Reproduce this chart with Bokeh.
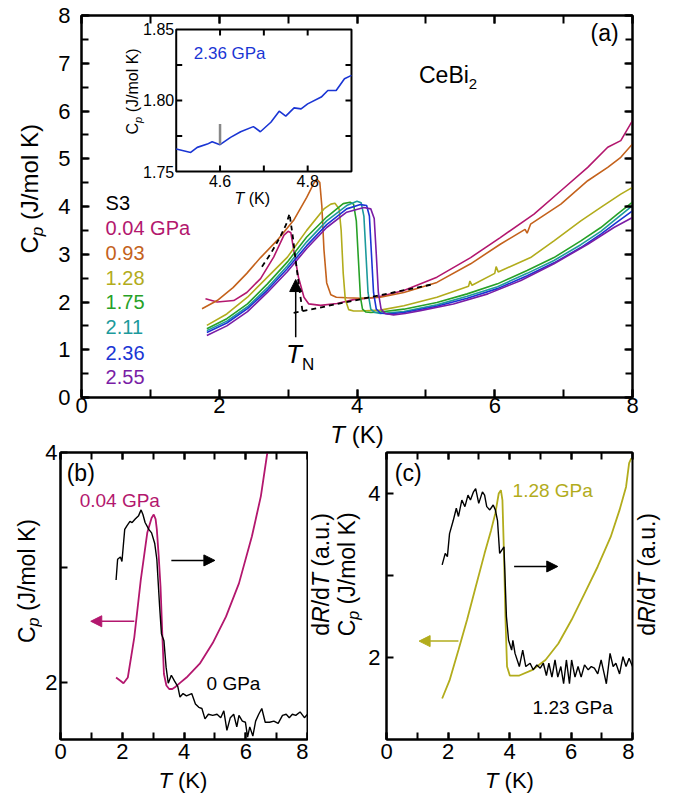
from bokeh.plotting import figure
from bokeh.models import Range1d, LinearAxis, SingleIntervalTicker, FixedTicker, Label, Arrow, NormalHead
from bokeh.layouts import column, row
from bokeh.embed import file_html
from bokeh.resources import INLINE
from bokeh.core.properties import value

FONT = "Liberation Sans"

# ---------------- data: panel (a) ----------------
pressures = ["0.04 GPa", "0.93", "1.28", "1.75", "2.11", "2.36", "2.55"]
colors = ["#B3176E", "#C4621C", "#B2AC1C", "#27A127", "#1C9A9C", "#1A35D4", "#7A1DA6"]

T_004 = [1.80, 1.97, 2.21, 2.40, 2.60, 2.79, 2.94, 3.00, 3.04, 3.08, 3.15, 3.23, 3.30, 3.47, 3.71, 3.95, 4.29,
         4.68, 5.16, 5.65, 6.08, 6.57, 6.96, 7.35, 7.64, 7.83, 8.00]
Cp_004 = [2.07, 2.00, 2.03, 2.20, 2.49, 2.94, 3.40, 3.48, 3.45, 3.10, 2.52, 2.10, 1.96, 1.93, 1.97, 2.05, 2.10,
          2.24, 2.52, 2.93, 3.35, 3.84, 4.33, 4.82, 5.24, 5.38, 5.80]

T_093 = [1.75, 1.97, 2.20, 2.40, 2.60, 2.84, 3.08, 3.27, 3.37, 3.42, 3.46, 3.49, 3.52, 3.56, 3.62, 3.70, 3.85,
         4.05, 4.34, 4.68, 5.16, 5.65, 6.08, 6.44, 6.47, 6.52, 6.96, 7.35, 7.64, 7.83, 8.00]
Cp_093 = [1.86, 2.03, 2.30, 2.60, 2.93, 3.29, 3.71, 4.19, 4.48, 4.57, 4.50, 4.00, 3.10, 2.40, 2.15, 2.10, 2.09,
          2.08, 2.10, 2.20, 2.41, 2.80, 3.21, 3.52, 3.44, 3.63, 4.05, 4.54, 4.82, 5.03, 5.31]

T_128 = [1.82, 2.11, 2.41, 2.70, 2.99, 3.27, 3.52, 3.62, 3.68, 3.74, 3.77, 3.80, 3.83, 3.88, 3.95, 4.05, 4.34,
         4.68, 5.16, 5.62, 5.64, 5.67, 6.00, 6.02, 6.05, 6.52, 6.86, 7.25, 7.54, 7.83, 8.00]
Cp_128 = [1.51, 1.75, 2.10, 2.52, 2.94, 3.50, 3.95, 4.05, 4.07, 3.95, 3.50, 2.60, 2.05, 1.84, 1.81, 1.81, 1.83,
          1.92, 2.10, 2.33, 2.44, 2.35, 2.60, 2.74, 2.63, 2.93, 3.28, 3.70, 3.98, 4.26, 4.40]

T_175 = [1.82, 2.11, 2.41, 2.70, 2.99, 3.27, 3.56, 3.80, 3.90, 3.95, 3.99, 4.02, 4.05, 4.08, 4.13, 4.20, 4.34,
         4.68, 5.16, 5.60, 6.04, 6.47, 6.86, 7.25, 7.54, 7.78, 8.00]
Cp_175 = [1.44, 1.65, 1.96, 2.38, 2.84, 3.36, 3.78, 4.06, 4.09, 4.05, 3.70, 2.90, 2.10, 1.85, 1.79, 1.78, 1.79,
          1.85, 1.99, 2.17, 2.38, 2.66, 2.93, 3.28, 3.56, 3.84, 4.09]

T_211 = [1.82, 2.11, 2.41, 2.70, 2.99, 3.27, 3.56, 3.85, 4.00, 4.06, 4.10, 4.13, 4.16, 4.20, 4.26, 4.34, 4.68,
         5.16, 5.60, 6.04, 6.47, 6.86, 7.25, 7.54, 7.78, 8.00]
Cp_211 = [1.40, 1.60, 1.90, 2.30, 2.76, 3.26, 3.70, 4.02, 4.11, 4.08, 3.80, 3.00, 2.20, 1.85, 1.78, 1.76, 1.80,
          1.94, 2.12, 2.32, 2.60, 2.87, 3.20, 3.48, 3.76, 4.02]

T_236 = [1.82, 2.11, 2.41, 2.70, 2.99, 3.27, 3.56, 3.85, 4.05, 4.14, 4.18, 4.21, 4.24, 4.28, 4.34, 4.45, 4.68,
         5.16, 5.60, 6.04, 6.47, 6.86, 7.25, 7.54, 7.78, 8.00]
Cp_236 = [1.36, 1.56, 1.86, 2.25, 2.70, 3.18, 3.62, 3.95, 4.04, 4.02, 3.80, 3.00, 2.20, 1.85, 1.77, 1.75, 1.78,
          1.91, 2.08, 2.28, 2.55, 2.82, 3.14, 3.42, 3.68, 3.91]

T_255 = [1.82, 2.11, 2.41, 2.70, 2.99, 3.27, 3.56, 3.85, 4.10, 4.20, 4.25, 4.28, 4.31, 4.35, 4.41, 4.53, 4.70,
         4.92, 5.40, 5.90, 6.38, 6.86, 7.35, 7.73, 8.00]
Cp_255 = [1.30, 1.50, 1.80, 2.20, 2.64, 3.12, 3.56, 3.88, 3.98, 3.95, 3.75, 3.00, 2.20, 1.85, 1.76, 1.73, 1.76,
          1.82, 1.96, 2.17, 2.45, 2.80, 3.21, 3.56, 3.77]

# entropy-balance construction (dashed)
T_dash_up = [2.62, 2.75, 2.88, 2.97, 3.02, 3.07, 3.12, 3.17, 3.21]
Cp_dash_up = [2.74, 3.02, 3.35, 3.62, 3.85, 3.35, 2.75, 2.20, 1.80]
T_dash_low = [3.08, 5.10]
Cp_dash_low = [1.77, 2.37]

# inset (2.36 GPa)
T_in = [4.500, 4.533, 4.548, 4.571, 4.582, 4.600, 4.624, 4.647, 4.676, 4.692, 4.716, 4.735, 4.750, 4.769, 4.785,
        4.800, 4.831, 4.846, 4.865, 4.884, 4.900]
Cp_in = [1.7658, 1.7634, 1.7670, 1.7693, 1.7710, 1.7689, 1.7740, 1.7780, 1.7816, 1.7780, 1.7847, 1.7925, 1.7890,
         1.7948, 1.7941, 1.7976, 1.8024, 1.8070, 1.8070, 1.8153, 1.8177]
T_in_mark = [4.6, 4.6]
Cp_in_mark = [1.7690, 1.7835]

# ---------------- data: panel (b) ----------------
T_b = [1.80, 1.95, 2.04, 2.18, 2.39, 2.60, 2.81, 2.95, 3.02, 3.08, 3.12, 3.18, 3.24, 3.30, 3.35, 3.43, 3.52, 3.62,
       3.73, 3.90, 4.08, 4.51, 4.93, 5.36, 5.78, 6.20, 6.49, 6.70]
Cp_b = [2.04, 2.01, 1.99, 2.04, 2.39, 2.89, 3.30, 3.43, 3.46, 3.42, 3.33, 3.10, 2.83, 2.40, 2.07, 1.97, 1.94, 1.94,
        1.96, 2.00, 2.04, 2.16, 2.34, 2.57, 2.86, 3.27, 3.62, 4.00]
T_b_dr = [1.80, 1.85, 1.94, 1.99, 2.08, 2.15, 2.25, 2.32, 2.42, 2.53, 2.61, 2.67, 2.74, 2.86, 2.95, 3.05, 3.12, 3.21,
          3.27, 3.35, 3.42, 3.49, 3.59, 3.69, 3.80, 3.87, 3.97, 4.08, 4.25, 4.37, 4.48, 4.58, 4.68, 4.79, 4.93, 5.07,
          5.19, 5.29, 5.39, 5.50, 5.61, 5.71, 5.78, 5.89, 5.99, 6.06, 6.13, 6.23, 6.32, 6.42, 6.52, 6.63, 6.77, 6.91,
          7.05, 7.19, 7.31, 7.41, 7.51, 7.62, 7.76, 7.90, 8.00]
dRdT_b = [2.89, 3.07, 3.09, 3.05, 3.33, 3.36, 3.40, 3.39, 3.42, 3.45, 3.50, 3.46, 3.39, 3.33, 3.30, 3.21, 3.07, 2.66,
          2.42, 2.36, 2.13, 1.99, 2.06, 2.01, 1.96, 1.87, 1.90, 1.88, 1.90, 1.81, 1.78, 1.77, 1.68, 1.72, 1.71, 1.72,
          1.69, 1.75, 1.58, 1.69, 1.72, 1.61, 1.71, 1.66, 1.65, 1.52, 1.61, 1.53, 1.66, 1.72, 1.77, 1.65, 1.65, 1.66,
          1.64, 1.71, 1.72, 1.69, 1.72, 1.71, 1.74, 1.69, 1.72]

# ---------------- data: panel (c) ----------------
T_c = [1.81, 2.05, 2.34, 2.62, 2.90, 3.19, 3.40, 3.54, 3.65, 3.72, 3.77, 3.82, 3.87, 3.92, 4.01, 4.32, 4.75, 5.17,
       5.59, 6.02, 6.44, 6.87, 7.29, 7.58, 7.79, 7.89, 7.96]
Cp_c = [1.50, 1.72, 2.09, 2.46, 2.86, 3.27, 3.55, 3.76, 4.00, 4.04, 3.92, 3.27, 2.46, 1.89, 1.78, 1.78, 1.85, 1.97,
        2.17, 2.46, 2.78, 3.11, 3.47, 3.80, 4.08, 4.37, 4.43]
T_c_dr = [1.81, 1.91, 1.98, 2.05, 2.17, 2.27, 2.34, 2.45, 2.55, 2.65, 2.73, 2.83, 2.90, 3.00, 3.12, 3.19, 3.26, 3.36,
          3.47, 3.54, 3.61, 3.68, 3.75, 3.82, 3.90, 3.97, 4.07, 4.11, 4.18, 4.32, 4.43, 4.53, 4.67, 4.77, 4.89, 5.00,
          5.10, 5.20, 5.28, 5.38, 5.48, 5.57, 5.67, 5.76, 5.85, 5.95, 6.02, 6.13, 6.23, 6.33, 6.44, 6.56, 6.66, 6.76,
          6.87, 6.98, 7.08, 7.15, 7.27, 7.37, 7.46, 7.58, 7.69, 7.79, 7.89, 8.00]
dRdT_c = [3.13, 3.27, 3.23, 3.51, 3.67, 3.82, 3.72, 3.92, 3.84, 3.98, 3.92, 4.02, 4.06, 3.88, 4.02, 3.98, 3.84, 3.80,
          3.86, 3.80, 3.67, 3.27, 3.31, 3.35, 2.50, 2.21, 2.09, 2.21, 2.05, 1.89, 2.09, 1.89, 1.93, 1.85, 1.91, 1.87,
          1.93, 1.78, 1.93, 1.76, 1.97, 1.76, 1.89, 1.68, 1.97, 1.68, 1.97, 1.76, 1.89, 1.76, 1.91, 1.85, 1.89, 1.87,
          1.80, 1.97, 1.80, 1.68, 2.05, 1.89, 1.93, 1.80, 2.01, 1.89, 1.99, 1.89]

# ---------------- helpers ----------------
ADV = {' ': 278, '(': 333, ')': 333, '/': 278, '.': 278, 'C': 722, 'J': 500, 'K': 667, 'R': 722, 'T': 611,
       'a': 556, 'd': 556, 'l': 222, 'm': 833, 'o': 556, 'p': 556, 'u': 556, 'N': 722, 'e': 556, 'B': 667, 'i': 222}
MID = 0.35  # em-box middle above the baseline


def tw(s, size):
    return sum(ADV.get(c, 556) for c in s) * size / 1000.0


def rich(p, pieces, x, y, angle=0, anchor="center", color="black", **rng):
    """pieces: (text, px size, italic, baseline shift down in px); (x, y) is the baseline anchor."""
    total = sum(tw(t, s) for t, s, it, sh in pieces)
    off = -total / 2 if anchor == "center" else 0.0
    for t, s, it, sh in pieces:
        lead = len(t) - len(t.lstrip())
        off += lead * 278 * s / 1000.0
        t2 = t.strip()
        up = MID * s - sh
        if angle == 0:
            xo, yo = off, up
        else:
            xo, yo = -up, off
        p.add_layout(Label(x=x, y=y, x_offset=xo, y_offset=yo, text=t2, angle=angle, angle_units="deg",
                           text_font=FONT, text_font_size=f"{s}px",
                           text_font_style="italic" if it else "normal", text_color=color,
                           text_align="left", text_baseline="middle", **rng))
        off += tw(t2, s)


def axis(p, side, ticker, labels=True, size="22px", standoff=5, tin=8, minor_in=5, overrides=None):
    ax = LinearAxis(ticker=ticker)
    ax.axis_line_width = 2
    ax.axis_line_color = "black"
    ax.major_tick_in = tin
    ax.major_tick_out = 0
    ax.minor_tick_in = minor_in
    ax.minor_tick_out = 0
    ax.major_tick_line_width = 2
    ax.minor_tick_line_width = 2
    ax.major_label_text_font = FONT
    if labels:
        ax.major_label_text_color = "black"
        ax.major_label_text_font_size = size
        ax.major_label_standoff = standoff
    else:
        ax.major_label_text_color = None
        ax.major_label_text_font_size = "1px"
        ax.major_label_standoff = 0
    if overrides:
        ax.major_label_overrides = overrides
    p.add_layout(ax, side)
    return ax


def base_fig(w, h, xr, yr, bl, br, bt, bb):
    p = figure(width=w, height=h, x_range=xr, y_range=yr, output_backend="svg", toolbar_location=None,
               x_axis_location=None, y_axis_location=None, min_border_left=bl, min_border_right=br,
               min_border_top=bt, min_border_bottom=bb)
    p.grid.visible = False
    p.outline_line_color = "black"
    p.outline_line_width = 2
    p.background_fill_color = "white"
    p.border_fill_color = "white"
    return p


def strip(w, h):
    # a text-only strip whose frame is the whole canvas; 1 data unit = 1 pixel
    s = figure(width=w, height=h, x_range=Range1d(0, w), y_range=Range1d(0, h), output_backend="svg",
               toolbar_location=None, x_axis_location=None, y_axis_location=None,
               min_border_left=0, min_border_right=0, min_border_top=0, min_border_bottom=0)
    s.grid.visible = False
    s.outline_line_color = None
    s.background_fill_color = "white"
    s.border_fill_color = "white"
    return s


def txt(p, x, y, s, color="black", size="20px", align="left", **rng):
    p.text(x=[x], y=[y], text=[s], text_font=value(FONT), text_font_size=value(size), text_color=color,
           text_align=align, text_baseline="middle", **rng)


# ---------------- panel (a) ----------------
pa = base_fig(627, 422, Range1d(0, 8), Range1d(0, 8), 33, 43, 15, 25)
axis(pa, "below", SingleIntervalTicker(interval=2, num_minor_ticks=2), standoff=0, tin=8, minor_in=8)
axis(pa, "above", SingleIntervalTicker(interval=2, num_minor_ticks=2), labels=False, tin=8, minor_in=8)
axis(pa, "left", SingleIntervalTicker(interval=1, num_minor_ticks=2), standoff=11, tin=8, minor_in=7)
axis(pa, "right", SingleIntervalTicker(interval=1, num_minor_ticks=2), labels=False, tin=8, minor_in=7)

series_a = [(T_004, Cp_004), (T_093, Cp_093), (T_128, Cp_128), (T_175, Cp_175),
            (T_211, Cp_211), (T_236, Cp_236), (T_255, Cp_255)]
for (tt, cc), col in zip(series_a, colors):
    pa.line(tt, cc, line_color=col, line_width=1.6)
pa.line(T_dash_up, Cp_dash_up, line_color="black", line_width=1.8, line_dash="5 4")
pa.line(T_dash_low, Cp_dash_low, line_color="black", line_width=1.8, line_dash="5 4")

pa.add_layout(Arrow(end=NormalHead(size=12, fill_color="black", line_color="black"),
                    x_start=3.11, y_start=1.26, x_end=3.11, y_end=2.47, line_width=1.5, line_color="black"))
rich(pa, [("T", 26, True, 0), ("N", 17, False, 7)], 2.97, 0.71, anchor="left")

leg_y = [3.54, 3.02, 2.51, 1.99, 1.47, 0.94, 0.42]
txt(pa, 0.35, 4.07, "S3")
for lab, col, yy in zip(pressures, colors, leg_y):
    txt(pa, 0.35, yy, lab, color=col)
txt(pa, 7.39, 7.64, "(a)", size="23px")
rich(pa, [("CeBi", 23, False, 0), ("2", 15, False, 6)], 4.9, 6.58, anchor="left")

# inset drawn with its own ranges mapped onto a sub-box of the frame
fx0, fx1, fy0, fy1 = 0.1719, 0.4900, 0.5916, 0.9634
ix0, ix1, iy0, iy1 = 4.5, 4.9, 1.75, 1.85
sx = (ix1 - ix0) / (fx1 - fx0)
sy = (iy1 - iy0) / (fy1 - fy0)
pa.extra_x_ranges = {"ix": Range1d(ix0 - fx0 * sx, ix0 + (1 - fx0) * sx)}
pa.extra_y_ranges = {"iy": Range1d(iy0 - fy0 * sy, iy0 + (1 - fy0) * sy)}
IR = dict(x_range_name="ix", y_range_name="iy")
pa.quad(left=[ix0], right=[ix1], bottom=[iy0], top=[iy1], fill_color="white", line_color="black",
        line_width=2, **IR)
in_xt = [4.6, 4.7, 4.8]
in_yt = [1.775, 1.80, 1.825]
pa.ray(x=in_xt, y=[iy0] * 3, length=6, angle=90, angle_units="deg", length_units="screen",
       line_color="black", line_width=2, **IR)
pa.ray(x=in_xt, y=[iy1] * 3, length=6, angle=-90, angle_units="deg", length_units="screen",
       line_color="black", line_width=2, **IR)
pa.ray(x=[ix0] * 3, y=in_yt, length=6, angle=0, angle_units="deg", length_units="screen",
       line_color="black", line_width=2, **IR)
pa.ray(x=[ix1] * 3, y=in_yt, length=6, angle=180, angle_units="deg", length_units="screen",
       line_color="black", line_width=2, **IR)
pa.line(T_in, Cp_in, line_color=colors[5], line_width=1.6, **IR)
pa.line(T_in_mark, Cp_in_mark, line_color="#888888", line_width=2.5, **IR)
pa.text(x=[4.6, 4.8], y=[iy0, iy0], text=["4.6", "4.8"], text_font=value(FONT), text_font_size=value("16px"),
        text_align="center", text_baseline="top", y_offset=3, text_color="black", **IR)
pa.text(x=[ix0] * 3, y=[1.75, 1.80, 1.85], text=["1.75", "1.80", "1.85"], text_font=value(FONT),
        text_font_size=value("16px"), text_align="right", text_baseline="middle", x_offset=-2,
        text_color="black", **IR)
txt(pa, 4.54, 1.833, "2.36 GPa", color=colors[5], size="17px", **IR)
rich(pa, [("C", 16, False, 0), ("p", 11, True, 4), (" (J/mol K)", 16, False, 0)], 0.82, 6.41, angle=90)
rich(pa, [("T", 16, True, 0), (" (K)", 16, False, 0)], 2.48, 4.06)

# y title of (a)
ya = strip(48, 422)
rich(ya, [("C", 24, False, 0), ("p", 17, True, 6), (" (J/mol K)", 24, False, 0)], 37, 230.5, angle=90)

# ---------------- panel (b) ----------------
pb = base_fig(266, 346, Range1d(0, 8), Range1d(1.5, 4.0), 16, 1, 30, 29)
pb.extra_y_ranges = {"dr": Range1d(1.5, 4.0)}
axis(pb, "below", SingleIntervalTicker(interval=2, num_minor_ticks=2), standoff=4, tin=7, minor_in=7)
axis(pb, "above", SingleIntervalTicker(interval=2, num_minor_ticks=2), labels=False, tin=7, minor_in=7)
axis(pb, "left", FixedTicker(ticks=[2, 3, 4]), standoff=3, tin=7, overrides={3: ""})
pb.line(T_b, Cp_b, line_color=colors[0], line_width=1.8)
pb.line(T_b_dr, dRdT_b, line_color="black", line_width=1.4, y_range_name="dr")
pb.add_layout(Arrow(end=NormalHead(size=11, fill_color="black", line_color="black"),
                    x_start=3.59, y_start=3.06, x_end=5.0, y_end=3.06, line_width=1.5, line_color="black"))
pb.add_layout(Arrow(end=NormalHead(size=11, fill_color=colors[0], line_color=colors[0]),
                    x_start=2.39, y_start=2.53, x_end=0.98, y_end=2.53, line_width=1.5, line_color=colors[0]))
txt(pb, 0.2, 3.82, "(b)", size="23px")
txt(pb, 0.62, 3.58, "0.04 GPa", color=colors[0], size="19px")
txt(pb, 4.73, 1.99, "0 GPa", size="19px")

# ---------------- panel (c) ----------------
pc = base_fig(271, 318, Range1d(0, 8), Range1d(1.0, 4.5), 23, 2, 2, 29)
pc.extra_y_ranges = {"dr": Range1d(1.0, 4.5)}
axis(pc, "below", SingleIntervalTicker(interval=2, num_minor_ticks=2), standoff=4, tin=7, minor_in=7)
axis(pc, "above", SingleIntervalTicker(interval=2, num_minor_ticks=2), labels=False, tin=7, minor_in=7)
axis(pc, "left", FixedTicker(ticks=[2, 3, 4]), standoff=6, tin=7, overrides={3: ""})
pc.line(T_c, Cp_c, line_color=colors[2], line_width=1.8)
pc.line(T_c_dr, dRdT_c, line_color="black", line_width=1.4, y_range_name="dr")
pc.add_layout(Arrow(end=NormalHead(size=11, fill_color="black", line_color="black"),
                    x_start=4.15, y_start=3.11, x_end=5.57, y_end=3.11, line_width=1.5, line_color="black"))
pc.add_layout(Arrow(end=NormalHead(size=11, fill_color=colors[2], line_color=colors[2]),
                    x_start=2.34, y_start=2.20, x_end=1.06, y_end=2.20, line_width=1.5, line_color=colors[2]))
txt(pc, 0.27, 4.25, "(c)", size="23px")
txt(pc, 4.1, 4.04, "1.28 GPa", color=colors[2], size="19px")
txt(pc, 4.75, 1.39, "1.23 GPa", size="19px")

# titles around (b) and (c), and the x title of (a)
cp_pieces = [("C", 23, False, 0), ("p", 16, True, 3.5), (" (J/mol K)", 23, False, 0)]
dr_pieces = [("d", 23, False, 0), ("R", 23, True, 0), ("/d", 23, False, 0), ("T", 23, True, 0),
             (" (a.u.)", 23, False, 0)]
yb = strip(42, 346)
rich(yb, cp_pieces, 35, 191, angle=90)
xa = strip(367, 28)
rich(xa, [("T", 24, True, 0), (" (K)", 24, False, 0)], 48.5, 8)
mid = strip(55, 318)
rich(mid, dr_pieces, 21, 183, angle=90)
rich(mid, cp_pieces, 47, 183, angle=90)
rc = strip(41, 318)
rich(rc, dr_pieces, 21, 183, angle=90)
xbc = strip(675, 26)
rich(xbc, [("T", 22, True, 0), (" (K)", 22, False, 0)], 182.4, 6)
rich(xbc, [("T", 22, True, 0), (" (K)", 22, False, 0)], 509, 6)

layout = column(row(ya, pa),
                row(yb, pb, column(xa, row(mid, pc, rc))),
                xbc)
open("out.html", "w").write(file_html(layout, INLINE))
